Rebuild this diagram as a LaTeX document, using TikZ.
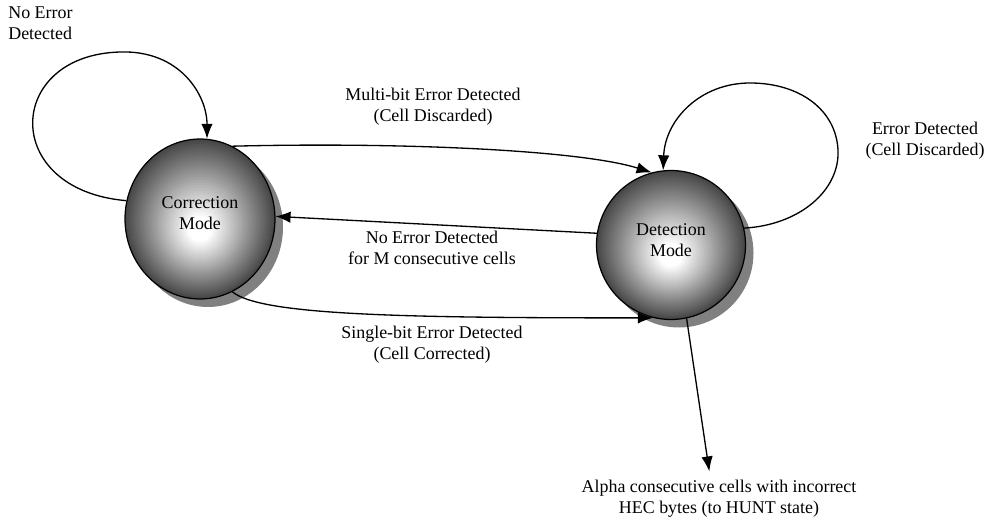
\documentclass[tikz,border=0pt]{standalone}
\usepackage{fontspec}
\setmainfont{Liberation Serif}
\usepackage{tikz}
\usetikzlibrary{arrows.meta, shapes.geometric}
\tikzset{
    modestate/.style={ellipse, draw=black, line width=0.7pt, align=center, inner sep=0pt,
        font=\fontsize{10.2}{11.8}\selectfont},
    arrow/.style={-{Latex[length=3mm, width=2.3mm]}, line width=0.75pt},
    txt/.style={align=center, inner sep=0pt, font=\fontsize{10.2}{11.8}\selectfont},
}
\begin{document}
\begin{tikzpicture}[x=0.02cm, y=-0.02cm]
        \useasboundingbox (0,0) rectangle (987,520);
        \foreach \cx/\cy/\rx/\ry in {200/219/75/80, 671/245/74.5/74.5} {
            \path[fill=gray] ({\cx+8},{\cy+8}) ellipse [x radius=\rx, y radius=\ry];
            \foreach \k in {0,...,35} {
                \pgfmathsetmacro{\s}{1-\k/36}
                \pgfmathsetmacro{\c}{72*max(0,(\s-0.16)/0.84)}
                \path[fill=black!\c] (\cx,{\cy+12*(1-\s)}) ellipse [x radius={\rx*\s}, y radius={\ry*\s}];
            }
        }
        \node[modestate, minimum width=3cm, minimum height=3.2cm] (corr) at (200,219) {Correction\\Mode\\[-5pt]};
        \node[modestate, minimum width=2.98cm, minimum height=2.98cm] (det) at (671,245) {Detection\\Mode\\[-6pt]};
        \node[txt, align=left, anchor=west] (noerr) at (8,23) {No Error\\Detected};
        \node[txt] (multi) at (433,107) {Multi-bit Error Detected\\(Cell Discarded)};
        \node[txt] (errdet) at (925,141) {Error Detected\\(Cell Discarded)};
        \node[txt] (mcells) at (432,248) {No Error Detected\\for M consecutive cells};
        \node[txt] (single) at (432,345) {Single-bit Error Detected\\(Cell Corrected)};
        \node[txt] (alpha) at (719,499) {Alpha consecutive cells with incorrect\\HEC bytes (to HUNT state)};
        \draw[arrow] (corr.166) .. controls (0,190) and (5,55) .. (120,52) .. controls (180,50) and (207,95) .. (corr.85);
        \draw[arrow] (corr.66) .. controls (400,142) and (580,150) .. (det.105);
        \draw[arrow] (det.171) -- (corr.2);
        \draw[arrow] (corr.294) .. controls (260,315) and (400,318) .. (det.256);
        \draw[arrow] (det.13) .. controls (800,225) and (840,190) .. (838,150) .. controls (836,110) and (800,83) .. (750,83) .. controls (700,83) and (665,120) .. (det.96);
        \draw[arrow, shorten >=5pt] (det.282) -- (alpha.114);
    \end{tikzpicture}
\end{document}
